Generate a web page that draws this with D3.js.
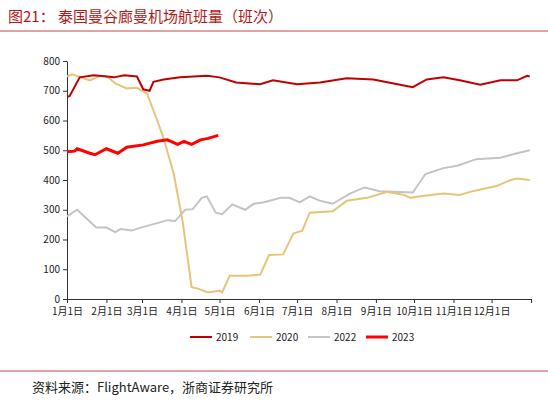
<!DOCTYPE html>
<html><head><meta charset="utf-8">
<script src="https://cdn.jsdelivr.net/npm/d3@7"></script>
<style>body{margin:0;background:#fff}text{font-family:"Noto Sans CJK SC",sans-serif}</style>
</head><body><div id="chart"></div>
<script>
var monthLabels = ["1月1日","2月1日","3月1日","4月1日","5月1日","6月1日","7月1日","8月1日","9月1日","10月1日","11月1日","12月1日"];
var monthStarts = [0,31,59,90,120,151,181,212,243,273,304,334];
var yTicks = [0,100,200,300,400,500,600,700,800];
var names = ["2019","2020","2022","2023"];
var colors = ["#C00000","#E6C47A","#C4C4C4","#FF0000"];

var days2019 = [0,2,10,21,37,45,55,60,65,68,76,89,110,120,133,152,162,181,199,220,241,262,272,283,296,309,325,341,354,362,364];
var vals2019 = [680,682,745,752,745,752,748,705,700,730,738,745,750,745,728,722,735,722,728,742,738,720,712,738,745,735,720,735,735,750,748];
var days2020 = [0,4,18,26,31,38,47,55,63,71,76,84,91,98,103,111,120,122,128,141,152,159,170,178,185,191,209,220,236,252,265,270,278,296,309,317,327,338,349,354,364];
var vals2020 = [748,755,735,750,750,725,708,710,690,600,540,420,260,40,35,22,28,22,78,78,82,148,150,220,230,290,295,330,340,360,350,340,345,355,350,360,370,380,400,405,400];
var days2022 = [0,8,23,31,38,42,51,58,71,79,85,93,99,106,110,117,122,130,140,147,155,168,175,183,191,199,209,223,234,246,272,282,296,307,322,341,354,364];
var vals2022 = [278,300,240,240,225,235,230,240,255,265,262,300,302,340,345,290,285,318,300,320,325,340,340,325,345,330,320,355,375,362,358,420,440,448,470,475,490,500];
var days2023 = [0,6,8,18,22,31,40,47,60,71,79,87,92,98,105,111,119];
var vals2023 = [495,497,505,490,485,505,490,510,518,530,535,520,530,520,535,540,550];

var W = 548, H = 404;
var svg = d3.select("#chart").append("svg").attr("width", W).attr("height", H);

svg.append("text").attr("x", 8).attr("y", 22).attr("font-size", 15).attr("fill", "#B01818")
  .text("图21：  泰国曼谷廊曼机场航班量（班次）");
svg.append("line").attr("x1", 0).attr("x2", W).attr("y1", 31).attr("y2", 31).attr("stroke", "#B01818").attr("stroke-width", 0.8);

var x = d3.scaleLinear().domain([0, 365]).range([67, 531]);
var y = d3.scaleLinear().domain([0, 800]).range([299, 61]);

var gy = svg.append("g").attr("transform", "translate(67,0)")
  .call(d3.axisLeft(y).tickValues(yTicks).tickSize(4).tickSizeOuter(0));
var gx = svg.append("g").attr("transform", "translate(0,299)")
  .call(d3.axisBottom(x).tickValues(monthStarts.concat([365])).tickSize(4).tickSizeOuter(0)
    .tickFormat(function(d, i){ return monthLabels[i] || ""; }));
[gx, gy].forEach(function(g){
  g.selectAll("path,line").attr("stroke", "#333");
  g.selectAll("text").attr("font-size", 10).attr("fill", "#222");
});
gx.selectAll("text").attr("y", 9);

var series = [[days2019, vals2019], [days2020, vals2020], [days2022, vals2022], [days2023, vals2023]];
var line = d3.line().x(function(d){ return x(d[0]); }).y(function(d){ return y(d[1]); });
var order = [2, 1, 0, 3];
order.forEach(function(i){
  var pts = series[i][0].map(function(d, k){ return [d, series[i][1][k]]; });
  svg.append("path").datum(pts).attr("d", line).attr("fill", "none")
    .attr("stroke", colors[i]).attr("stroke-width", i == 3 ? 3 : 2);
});

var legX = [190, 250, 308, 366];
names.forEach(function(n, i){
  var g = svg.append("g").attr("transform", "translate(" + legX[i] + ",337)");
  g.append("line").attr("x1", 0).attr("x2", 22).attr("stroke", colors[i]).attr("stroke-width", i == 3 ? 3 : 2);
  g.append("text").attr("x", 26).attr("y", 4).attr("font-size", 10).attr("fill", "#222").text(n);
});

svg.append("line").attr("x1", 0).attr("x2", W).attr("y1", 371).attr("y2", 371).attr("stroke", "#B01818").attr("stroke-width", 0.8);
svg.append("text").attr("x", 32).attr("y", 392).attr("font-size", 13).attr("fill", "#222")
  .attr("font-family", "Noto Serif CJK SC, serif").text("资料来源：FlightAware，浙商证券研究所");
</script></body></html>
